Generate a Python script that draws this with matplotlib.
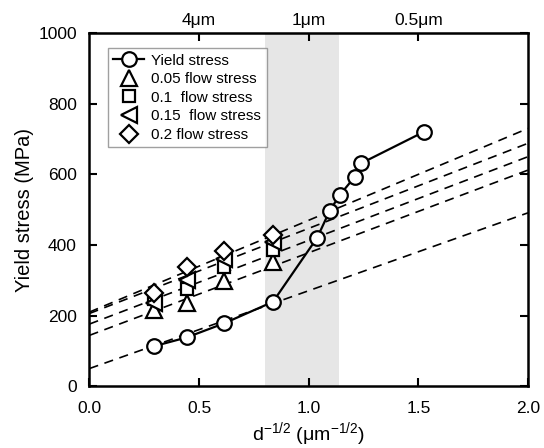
import numpy as np
import matplotlib
matplotlib.use("Agg")
import matplotlib.pyplot as plt

plt.rcParams['font.family'] = ['Liberation Sans', 'DejaVu Sans']

# yield stress vs d^-1/2
x_yield = [0.293, 0.443, 0.614, 0.837, 1.039, 1.095, 1.141, 1.21, 1.238, 1.524]
y_yield = [113, 138, 178, 239, 421, 496, 541, 593, 631, 720]

# flow stresses (same grain sizes as first four yield points)
x_flow = [0.293, 0.443, 0.614, 0.837]
flow_005 = [215, 236, 298, 352]
flow_01 = [246, 274, 338, 385]
flow_015 = [236, 300, 359, 409]
flow_02 = [264, 338, 383, 428]

# dashed fit lines: value at x=0 and at x=2
fit_start = [50, 144, 176, 206, 210]
fit_end = [491, 612, 650, 688, 730]

shade_lo, shade_hi = 0.8, 1.14
top_ticks = [0.5, 1.0, 1.5]
top_labels = ['4\u03bcm', '1\u03bcm', '0.5\u03bcm']

fig = plt.figure(figsize=(5.44, 4.48), dpi=100)
ax = fig.add_axes([0.1645, 0.138, 0.806, 0.788])

ax.axvspan(shade_lo, shade_hi, color='#e6e6e6', lw=0, zorder=0)

for a, b in zip(fit_start, fit_end):
    ax.plot([0, 2], [a, b], color='black', ls=(0, (5.5, 4)), lw=1.2, zorder=1)

mk = dict(ls='none', mfc='white', mec='black', mew=1.6, zorder=3)
ax.plot(x_yield, y_yield, '-o', color='black', lw=1.6, ms=10.5,
        mfc='white', mec='black', mew=1.6, zorder=4, label='Yield stress')
ax.plot(x_flow, flow_005, marker='^', ms=11, label='0.05 flow stress', **mk)
ax.plot(x_flow, flow_01, marker='s', ms=9, label='0.1  flow stress', **mk)
ax.plot(x_flow, flow_015, marker='<', ms=11, label='0.15  flow stress', **mk)
ax.plot(x_flow, flow_02, marker='D', ms=9, label='0.2 flow stress', **mk)

ax.set_xlim(0, 2)
ax.set_ylim(0, 1000)
ax.set_xticks([0, 0.5, 1.0, 1.5, 2.0])
ax.set_xticklabels(['0.0', '0.5', '1.0', '1.5', '2.0'])
ax.set_yticks(range(0, 1001, 200))
ax.tick_params(direction='in', length=6, width=1.5, labelsize=12.5, right=True)
ax.tick_params(axis='x', pad=11)
ax.tick_params(axis='y', pad=9)
for s in ax.spines.values():
    s.set_linewidth(1.8)

ax.set_ylabel('Yield stress (MPa)', fontsize=14.5, labelpad=3)
ax.set_xlabel('d$^{\\mathregular{-1/2}}$ (\u03bcm$^{\\mathregular{-1/2}}$)',
              fontsize=14, labelpad=3)

top = ax.secondary_xaxis('top')
top.set_xticks(top_ticks)
top.set_xticklabels(top_labels)
top.tick_params(direction='in', length=6, width=1.5, labelsize=12.5, pad=4)

leg = ax.legend(loc='upper left', bbox_to_anchor=(0.042, 0.957), fontsize=11,
                frameon=True, fancybox=False, edgecolor='#888888',
                handlelength=2.0, handletextpad=0.5, borderpad=0.35,
                labelspacing=0.3, borderaxespad=0)
leg.get_frame().set_linewidth(1.0)

fig.savefig('out.png', dpi=100)
